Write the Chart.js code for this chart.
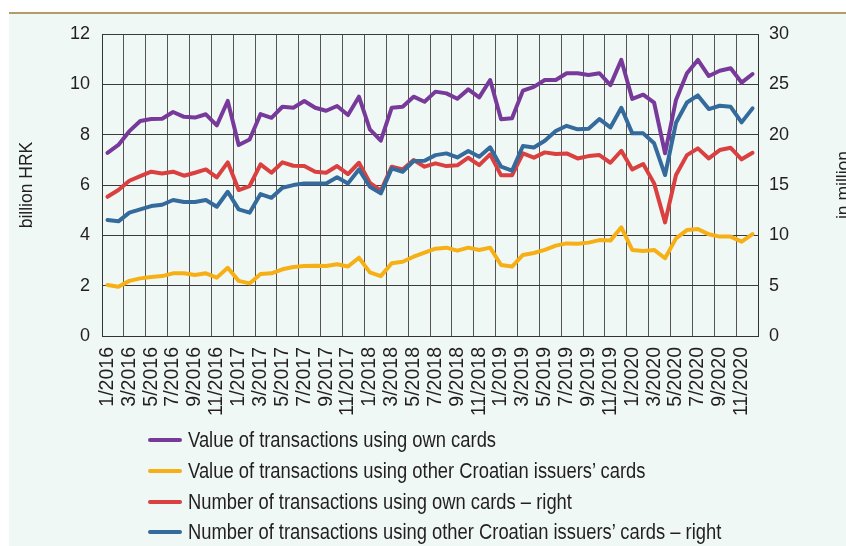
<!DOCTYPE html>
<html>
<head>
<meta charset="utf-8">
<script src="https://cdn.jsdelivr.net/npm/chart.js@4.4.1/dist/chart.umd.min.js"></script>
<style>
  html, body { margin: 0; padding: 0; background: #ffffff; }
  #wrap { position: relative; width: 846px; height: 546px; overflow: hidden; background: #ffffff; }
  #panel { position: absolute; left: 9px; top: 12px; right: 0; bottom: 0; background: #eff8f4; border-top: 2px solid #b39b6b; }
  #c { position: absolute; left: 0; top: 0; }
  #legend { position: absolute; left: 148px; top: 425px; font-family: 'Liberation Sans', Arial, sans-serif; font-size: 22px; color: #231f20; }
  .row { height: 30.7px; display: flex; align-items: center; white-space: nowrap; }
  .sw { width: 34px; height: 4px; border-radius: 2px; margin-right: 6px; flex: none; }
  .txt { display: inline-block; transform: scaleX(0.835); transform-origin: 0 50%; }
</style>
</head>
<body>
<div id="wrap">
  <div id="panel"></div>
  <canvas id="c" width="846" height="546"></canvas>
  <div id="legend"></div>
</div>
<script>
const categories = [
  '1/2016','2/2016','3/2016','4/2016','5/2016','6/2016','7/2016','8/2016','9/2016','10/2016','11/2016','12/2016',
  '1/2017','2/2017','3/2017','4/2017','5/2017','6/2017','7/2017','8/2017','9/2017','10/2017','11/2017','12/2017',
  '1/2018','2/2018','3/2018','4/2018','5/2018','6/2018','7/2018','8/2018','9/2018','10/2018','11/2018','12/2018',
  '1/2019','2/2019','3/2019','4/2019','5/2019','6/2019','7/2019','8/2019','9/2019','10/2019','11/2019','12/2019',
  '1/2020','2/2020','3/2020','4/2020','5/2020','6/2020','7/2020','8/2020','9/2020','10/2020','11/2020','12/2020'
];

// billion HRK (left axis)
const valueOwnCards = [7.28, 7.59, 8.14, 8.54, 8.62, 8.63, 8.90, 8.71, 8.68, 8.81, 8.37, 9.34,
  7.59, 7.81, 8.82, 8.67, 9.11, 9.07, 9.34, 9.07, 8.95, 9.14, 8.78, 9.51,
  8.21, 7.76, 9.07, 9.11, 9.51, 9.31, 9.71, 9.64, 9.43, 9.80, 9.48, 10.17,
  8.61, 8.65, 9.75, 9.90, 10.17, 10.17, 10.44, 10.44, 10.37, 10.44, 9.97, 10.97,
  9.42, 9.59, 9.27, 7.26, 9.38, 10.44, 10.97, 10.33, 10.54, 10.64, 10.07, 10.41];

const valueOtherCards = [2.03, 1.96, 2.19, 2.29, 2.34, 2.38, 2.49, 2.49, 2.42, 2.49, 2.32, 2.71,
  2.19, 2.09, 2.46, 2.49, 2.65, 2.74, 2.78, 2.79, 2.78, 2.85, 2.76, 3.11,
  2.53, 2.38, 2.89, 2.95, 3.15, 3.31, 3.47, 3.51, 3.39, 3.51, 3.42, 3.51,
  2.82, 2.76, 3.22, 3.30, 3.42, 3.59, 3.68, 3.67, 3.71, 3.81, 3.79, 4.32,
  3.42, 3.38, 3.42, 3.09, 3.88, 4.21, 4.25, 4.04, 3.95, 3.95, 3.75, 4.05];

// in million (right axis)
const numberOwnCards = [13.83, 14.50, 15.42, 15.89, 16.32, 16.15, 16.32, 15.92, 16.22, 16.55, 15.76, 17.25,
  14.50, 14.90, 17.05, 16.22, 17.25, 16.91, 16.88, 16.32, 16.22, 16.88, 16.09, 17.21,
  15.22, 14.43, 16.82, 16.55, 17.48, 16.82, 17.15, 16.88, 16.95, 17.71, 16.98, 18.04,
  15.96, 15.96, 18.14, 17.72, 18.24, 18.07, 18.14, 17.64, 17.87, 17.97, 17.21, 18.40,
  16.55, 17.08, 15.16, 11.29, 15.99, 17.97, 18.64, 17.64, 18.47, 18.70, 17.55, 18.20];

const numberOtherCards = [11.52, 11.39, 12.25, 12.58, 12.91, 13.04, 13.51, 13.31, 13.31, 13.51, 12.84, 14.33,
  12.58, 12.25, 14.10, 13.73, 14.73, 14.99, 15.16, 15.16, 15.16, 15.76, 15.16, 16.55,
  14.83, 14.17, 16.65, 16.32, 17.38, 17.41, 17.97, 18.14, 17.74, 18.37, 17.81, 18.74,
  16.82, 16.42, 18.87, 18.72, 19.40, 20.36, 20.88, 20.53, 20.59, 21.55, 20.72, 22.67,
  20.13, 20.13, 19.14, 15.99, 21.18, 23.20, 23.90, 22.54, 22.87, 22.77, 21.22, 22.61];

const seriesNames = [
  'Value of transactions using own cards',
  'Value of transactions using other Croatian issuers\u2019 cards',
  'Number of transactions using own cards \u2013 right',
  'Number of transactions using other Croatian issuers\u2019 cards \u2013 right'
];
const seriesColors = ['#773a9b', '#f6b016', '#d9403f', '#356a9c'];

const leftAxisTitle = 'billion HRK';
const rightAxisTitle = 'in million';

const yTickFont = { family: "'Liberation Sans', Arial, sans-serif", size: 18 };
const xTickFont = { family: "'Liberation Sans', Arial, sans-serif", size: 19.5 };
const textColor = '#231f20';

const rightTitlePlugin = {
  id: 'rightTitle',
  afterDraw(chart) {
    const ctx = chart.ctx;
    ctx.save();
    ctx.font = "17.5px 'Liberation Sans', Arial, sans-serif";
    ctx.fillStyle = textColor;
    ctx.textAlign = 'center';
    ctx.textBaseline = 'middle';
    ctx.translate(844, (chart.chartArea.top + chart.chartArea.bottom) / 2);
    ctx.rotate(-Math.PI / 2);
    ctx.fillText(rightAxisTitle, 0, 0);
    ctx.restore();
  }
};

function ds(i, data, axis, order) {
  return {
    label: seriesNames[i],
    data: data,
    yAxisID: axis,
    borderColor: seriesColors[i],
    backgroundColor: seriesColors[i],
    borderWidth: 4,
    pointRadius: 0,
    tension: 0,
    borderJoinStyle: 'round',
    borderCapStyle: 'round',
    order: order
  };
}

const chart = new Chart(document.getElementById('c'), {
  type: 'line',
  data: {
    labels: categories,
    datasets: [
      ds(0, valueOwnCards, 'y', 1),
      ds(1, valueOtherCards, 'y', 2),
      ds(2, numberOwnCards, 'y1', 3),
      ds(3, numberOtherCards, 'y1', 0)
    ]
  },
  options: {
    responsive: false,
    animation: false,
    devicePixelRatio: 1,
    layout: { padding: { top: 34, left: 0, right: 0, bottom: 0 } },
    plugins: { legend: { display: false }, tooltip: { enabled: false } },
    scales: {
      x: {
        type: 'category',
        offset: true,
        grid: {
          offset: true,
          drawTicks: false,
          color: (c) => (c.index % 2 === 0 ? '#555555' : 'rgba(0,0,0,0)'),
          lineWidth: 1
        },
        border: { display: true, color: '#333333', width: 1 },
        ticks: {
          autoSkip: false,
          minRotation: 90,
          maxRotation: 90,
          padding: 11,
          color: textColor,
          font: xTickFont,
          callback: function (v, i) { return i % 2 === 0 ? categories[i] : ''; }
        },
        afterFit: (s) => { s.height = 210; }
      },
      y: {
        position: 'left',
        min: 0, max: 12,
        grid: { drawTicks: false, color: '#3a3a3a', lineWidth: 1 },
        border: { display: true, color: '#333333', width: 1 },
        ticks: { stepSize: 2, padding: 12, color: textColor, font: yTickFont },
        title: {
          display: true,
          text: leftAxisTitle,
          color: textColor,
          font: { family: "'Liberation Sans', Arial, sans-serif", size: 17.5 },
          padding: { top: 17, bottom: 0 }
        },
        afterFit: (s) => { s.width = 102; }
      },
      y1: {
        position: 'right',
        min: 0, max: 30,
        grid: { drawOnChartArea: false, drawTicks: false },
        border: { display: true, color: '#333333', width: 1 },
        ticks: { stepSize: 5, padding: 11, color: textColor, font: yTickFont },
        afterFit: (s) => { s.width = 88; }
      }
    }
  },
  plugins: [rightTitlePlugin]
});

// HTML legend built from the series names / colours
const legend = document.getElementById('legend');
seriesNames.forEach((name, i) => {
  const row = document.createElement('div');
  row.className = 'row';
  const sw = document.createElement('span');
  sw.className = 'sw';
  sw.style.background = seriesColors[i];
  const t = document.createElement('span');
  t.className = 'txt';
  t.textContent = name;
  row.appendChild(sw);
  row.appendChild(t);
  legend.appendChild(row);
});
</script>
</body>
</html>
